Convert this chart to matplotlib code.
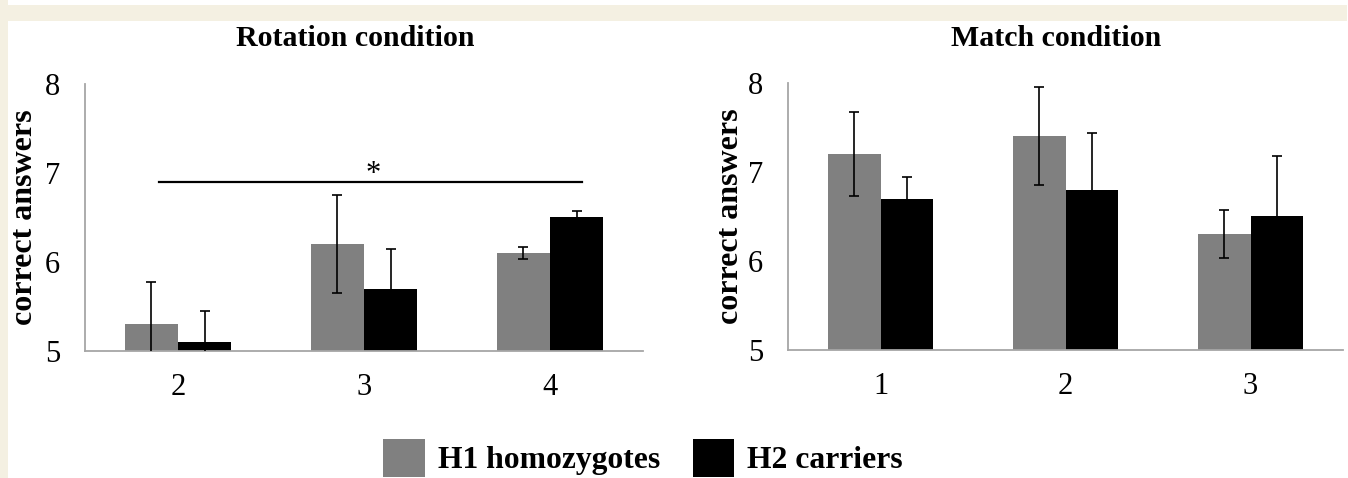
import matplotlib
matplotlib.use("Agg")
import matplotlib.pyplot as plt
from matplotlib.patches import Patch, Rectangle
import numpy as np

plt.rcParams['font.family'] = ['Liberation Serif', 'DejaVu Serif']

series = ["H1 homozygotes", "H2 carriers"]
colors = ["#808080", "#000000"]

rot_categories = ["2", "3", "4"]
rot_h1 = [5.3, 6.2, 6.1]
rot_h1_err = [0.47, 0.55, 0.07]
rot_h2 = [5.1, 5.7, 6.5]
rot_h2_err = [0.35, 0.45, 0.07]

match_categories = ["1", "2", "3"]
match_h1 = [7.2, 7.4, 6.3]
match_h1_err = [0.47, 0.55, 0.27]
match_h2 = [6.7, 6.8, 6.5]
match_h2_err = [0.24, 0.64, 0.68]

sig_line = (-0.1, 2.17, 6.9)
sig_text = "*"

W, H = 1348, 478
fig = plt.figure(figsize=(W / 100, H / 100), dpi=100)
fig.patch.set_facecolor("white")

cream = "#F4F0E2"
fig.patches.append(Rectangle((0, 0), 8 / W, 1, transform=fig.transFigure,
                             facecolor=cream, edgecolor="none", zorder=-10))
fig.patches.append(Rectangle((8 / W, 1 - 21 / H), 1 - 9 / W, 16 / H,
                             transform=fig.transFigure, facecolor=cream,
                             edgecolor="none", zorder=-10))

ax1 = fig.add_axes([85 / W, 1 - 351 / H, 558 / W, 267 / H])
ax2 = fig.add_axes([788 / W, 1 - 350 / H, 555 / W, 267 / H])

bw = 0.285


def draw(ax, cats, h1, h1e, h2, h2e, title, lblx):
    x = np.arange(len(cats))
    ax.bar(x - bw / 2, h1, bw, color=colors[0], zorder=2)
    ax.bar(x + bw / 2, h2, bw, color=colors[1], zorder=2)
    ax.errorbar(x - bw / 2, h1, yerr=h1e, fmt="none", ecolor="black",
                elinewidth=1.2, capsize=3.5, capthick=1.2, zorder=3)
    ax.errorbar(x + bw / 2, h2, yerr=h2e, fmt="none", ecolor="black",
                elinewidth=1.2, capsize=3.5, capthick=1.2, zorder=3)
    ax.set_xlim(-0.5, len(cats) - 0.5)
    ax.set_ylim(5, 8)
    ax.set_yticks([5, 6, 7, 8])
    ax.set_xticks(x)
    ax.set_xticklabels(cats)
    ax.tick_params(length=0, labelsize=22)
    ax.tick_params(axis="y", pad=18)
    ax.tick_params(axis="x", pad=16)
    for s in ["top", "right"]:
        ax.spines[s].set_visible(False)
    for s in ["left", "bottom"]:
        ax.spines[s].set_color("#A6A6A6")
        ax.spines[s].set_linewidth(1.3)
    ax.set_title(title, fontsize=21.5, fontweight="bold", pad=27, x=0.484)
    ax.set_ylabel("correct answers", fontsize=23, fontweight="bold", va="center")
    ax.yaxis.set_label_coords(lblx, 0.5)
    ax.set_facecolor("white")


draw(ax1, rot_categories, rot_h1, rot_h1_err, rot_h2, rot_h2_err,
     "Rotation condition", -0.109)
draw(ax2, match_categories, match_h1, match_h1_err, match_h2, match_h2_err,
     "Match condition", -0.104)

ax1.plot([sig_line[0], sig_line[1]], [sig_line[2], sig_line[2]],
         color="black", lw=1.6, zorder=4)
ax1.text(1.05, sig_line[2] + 0.08, sig_text, ha="center", va="center",
         fontsize=22)

handles = [Patch(facecolor=c, edgecolor="none") for c in colors]
fig.legend(handles, series, loc="center", bbox_to_anchor=(643 / W, 1 - 458 / H),
           ncol=2, frameon=False, prop={"size": 22.8, "weight": "bold"},
           handlelength=1.3, handleheight=1.45, handletextpad=0.41,
           columnspacing=1.04, borderpad=0, borderaxespad=0)

fig.savefig("out.png", dpi=100, facecolor="white")
